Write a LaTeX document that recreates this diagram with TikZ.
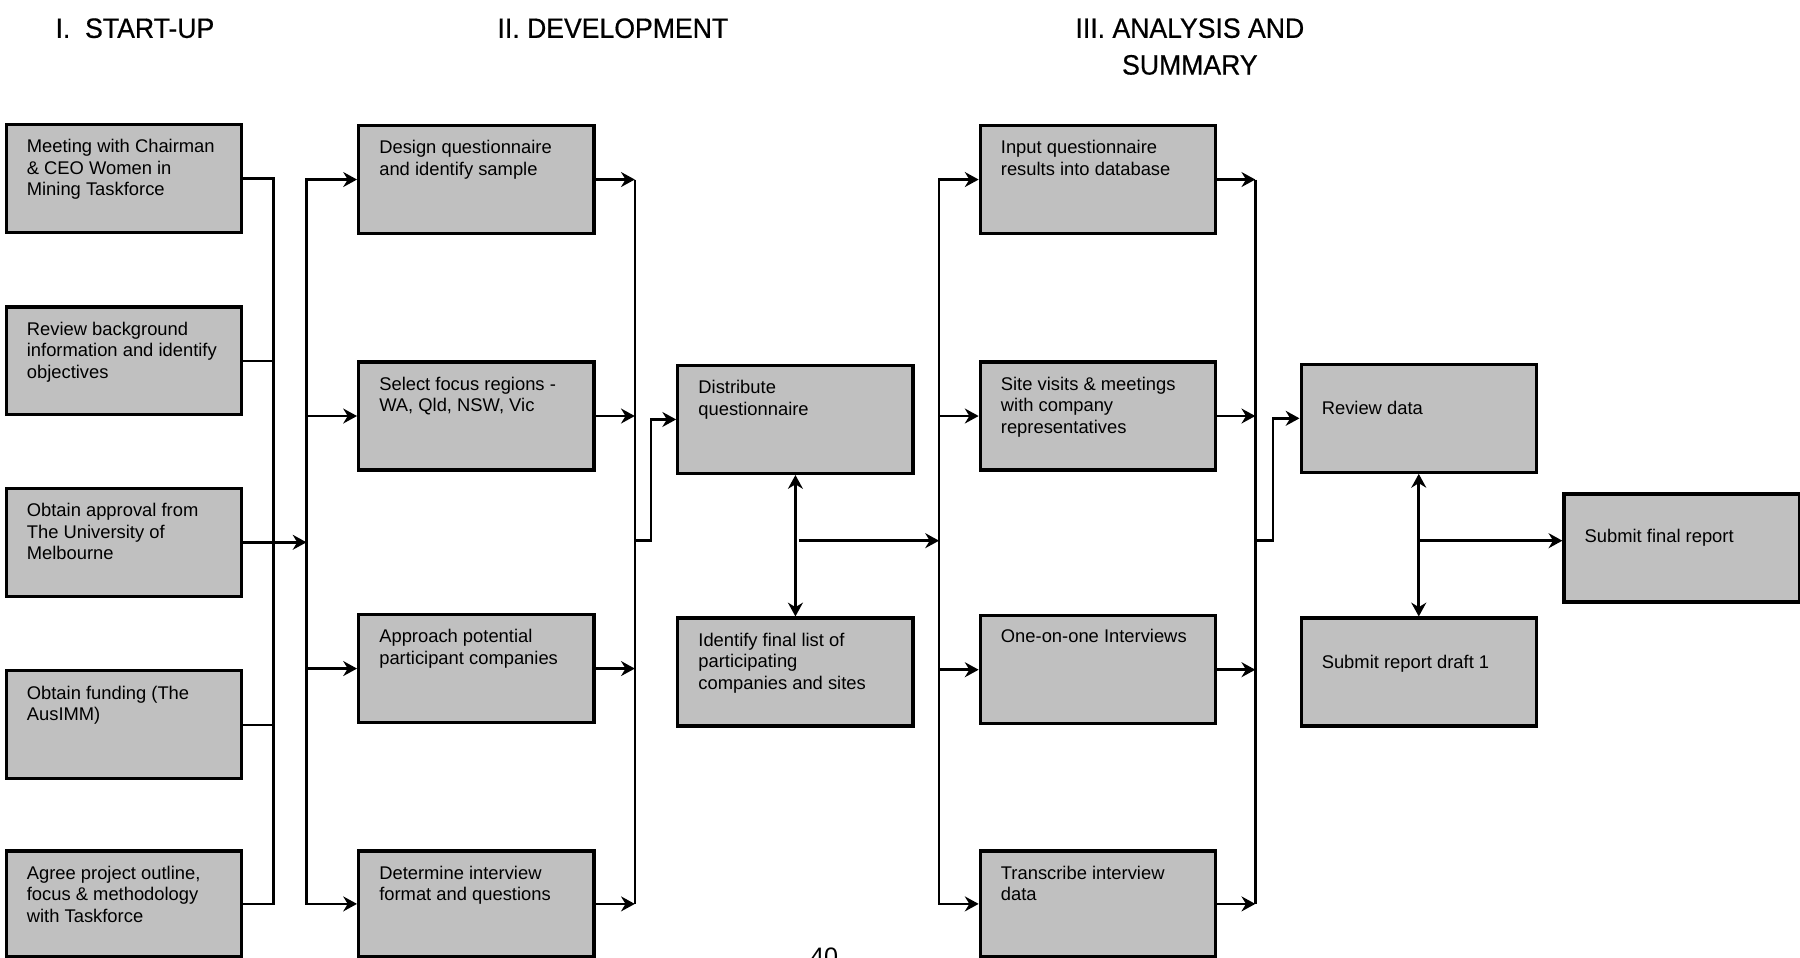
\documentclass[tikz,border=0pt]{standalone}
\usepackage{fontspec}
\setmainfont{Liberation Sans}
\newfontfamily\headfont[FakeStretch=0.95, FakeBold=0.6]{Liberation Sans}
\usepackage{tikz}
\usetikzlibrary{arrows.meta, positioning}
\definecolor{boxgray}{HTML}{C0C0C0}

\begin{document}
\begin{tikzpicture}[x=0.5pt, y=-0.5pt, >={Stealth[length=6pt, width=6.5pt]},
  stage/.style={draw, line width=1.4pt, fill=boxgray, anchor=north west,
    minimum width=102.5pt, minimum height=47pt, inner sep=0pt},
  stagetext/.style={inner sep=0pt, align=left, font=\fontsize{8}{9.4}\selectfont},
  heading/.style={inner sep=0pt, font=\headfont\fontsize{12.2}{16}\selectfont},
  link/.style={line width=1.15pt}]
  \useasboundingbox (0,0) rectangle (1568,834);
  \clip (0,0) rectangle (1568,834);

  % phase headings
  \node[heading, anchor=base west] (t1) at (48,33) {I.\ \ START-UP};
  \node[heading, anchor=base west] (t2) at (433,33) {II. DEVELOPMENT};
  \node[heading, anchor=north, align=center] (t3) at (1036.5,15.5) {III. ANALYSIS AND\\ SUMMARY};

  % I. start-up
  \node[stage] (b1) at (4,107) {};
  \node[stage] (b2) at (4,266) {};
  \node[stage] (b3) at (4,424) {};
  \node[stage] (b4) at (4,583) {};
  \node[stage, minimum height=46pt] (b5) at (4,740) {};
  \node[stagetext, below right=7pt and 9.5pt of b1.north west] (b1t) {Meeting with Chairman\\ \& CEO Women in\\ Mining Taskforce};
  \node[stagetext, below right=7pt and 9.5pt of b2.north west] (b2t) {Review background\\ information and identify\\ objectives};
  \node[stagetext, below right=7pt and 9.5pt of b3.north west] (b3t) {Obtain approval from\\ The University of\\ Melbourne};
  \node[stagetext, below right=7pt and 9.5pt of b4.north west] (b4t) {Obtain funding (The\\ AusIMM)};
  \node[stagetext, below right=7pt and 9.5pt of b5.north west] (b5t) {Agree project outline,\\ focus \& methodology\\ with Taskforce};

  % II. development
  \node[stage] (c1) at (311,108) {};
  \node[stage] (c2) at (311,314) {};
  \node[stage] (c3) at (311,534) {};
  \node[stage, minimum height=46pt] (c4) at (311,740) {};
  \node[stagetext, below right=7pt and 9.5pt of c1.north west] (c1t) {Design questionnaire\\ and identify sample};
  \node[stagetext, below right=7pt and 9.5pt of c2.north west] (c2t) {Select focus regions -\\ WA, Qld, NSW, Vic};
  \node[stagetext, below right=7pt and 9.5pt of c3.north west] (c3t) {Approach potential\\ participant companies};
  \node[stagetext, below right=7pt and 9.5pt of c4.north west] (c4t) {Determine interview\\ format and questions};

  \node[stage] (d1) at (589,317) {};
  \node[stage] (d2) at (589,537) {};
  \node[stagetext, below right=7pt and 9.5pt of d1.north west] (d1t) {Distribute\\ questionnaire};
  \node[stagetext, below right=7pt and 9.5pt of d2.north west] (d2t) {Identify final list of\\ participating\\ companies and sites};

  % III. analysis and summary
  \node[stage] (e1) at (852.5,108) {};
  \node[stage] (e2) at (852.5,314) {};
  \node[stage] (e3) at (852.5,535) {};
  \node[stage, minimum height=46pt] (e4) at (852.5,740) {};
  \node[stagetext, below right=7pt and 9.5pt of e1.north west] (e1t) {Input questionnaire\\ results into database};
  \node[stagetext, below right=7pt and 9.5pt of e2.north west] (e2t) {Site visits \& meetings\\ with company\\ representatives};
  \node[stagetext, below right=6.5pt and 9.5pt of e3.north west] (e3t) {One-on-one Interviews};
  \node[stagetext, below right=7pt and 9.5pt of e4.north west] (e4t) {Transcribe interview\\ data};

  \node[stage] (f1) at (1132,316) {};
  \node[stage] (f2) at (1132,537) {};
  \node[stage] (g) at (1361,429) {};
  \node[stagetext, below right=16.5pt and 9.5pt of f1.north west] (f1t) {Review data};
  \node[stagetext, below right=16.5pt and 9.5pt of f2.north west] (f2t) {Submit report draft 1};
  \node[stagetext, below right=16pt and 9.5pt of g.north west] (gt) {Submit final report};

  \node[font=\fontsize{11}{13}\selectfont, anchor=base] (pageno) at (718,841) {40};

  % bus lines
  \coordinate (midrow) at (0,471);
  \coordinate (bus1) at (238,0);
  \coordinate (bus2) at (267,0);
  \coordinate (bus3) at (553,0);
  \coordinate (step3) at (567,0);
  \coordinate (bus4) at (818,0);
  \coordinate (bus5) at (1093.5,0);
  \coordinate (step5) at (1109,0);

  % start-up -> development
  \draw[link] (b1.east) -| (bus1 |- b5.east) -- (b5.east);
  \foreach \n in {b2,b4} \draw[link] (\n.east) -- (\n.east -| bus1);
  \draw[link, ->] (b3.east) -- (b3.east -| bus2);
  \draw[link, <->] (c1.west) -| (bus2 |- c4.west) -- (c4.west);
  \foreach \n in {c2,c3} \draw[link, ->] (\n.west -| bus2) -- (\n.west);

  % development -> questionnaire
  \draw[link] (bus3 |- c1.east) -- (bus3 |- c4.east);
  \foreach \n in {c1,c2,c3,c4} \draw[link, ->] (\n.east) -- (\n.east -| bus3);
  \draw[link, ->] (bus3 |- midrow) -| (step3 |- d1.west) -- (d1.west);
  \draw[link, <->] (d1.south) -- (d2.north);
  \coordinate (dmid) at (d1.south |- midrow);
  \draw[link, ->] ([xshift=1.5pt]dmid) -- (dmid -| bus4);

  % analysis
  \draw[link, <->] (e1.west) -| (bus4 |- e4.west) -- (e4.west);
  \foreach \n in {e2,e3} \draw[link, ->] (\n.west -| bus4) -- (\n.west);
  \draw[link] (bus5 |- e1.east) -- (bus5 |- e4.east);
  \foreach \n in {e1,e2,e3,e4} \draw[link, ->] (\n.east) -- (\n.east -| bus5);
  \draw[link, ->] (bus5 |- midrow) -| (step5 |- f1.west) -- (f1.west);

  % summary
  \draw[link, <->] (f1.south) -- (f2.north);
  \draw[link, ->] (f1.south |- midrow) -- (g.west |- midrow);
\end{tikzpicture}
\end{document}
